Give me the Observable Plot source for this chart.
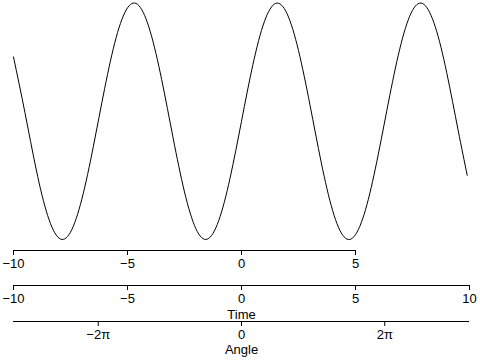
<!DOCTYPE html>
<html>
<head>
<meta charset="utf-8">
<script src="https://cdn.jsdelivr.net/npm/d3@7"></script>
<script src="https://cdn.jsdelivr.net/npm/@observablehq/plot@0.6"></script>
<style>
  html, body { margin: 0; padding: 0; background: #fff; }
</style>
</head>
<body>
<div id="chart"></div>
<script>
// Curve samples
const timeValues = [-10, -9.5, -9, -8.5, -8, -7.5, -7, -6.5, -6, -5.5, -5, -4.5, -4, -3.5, -3, -2.5, -2, -1.5, -1, -0.5,
  0, 0.5, 1, 1.5, 2, 2.5, 3, 3.5, 4, 4.5, 5, 5.5, 6, 6.5, 7, 7.5, 8, 8.5, 9, 9.5, 9.9];
const signalValues = [0.544, 0.075, -0.412, -0.798, -0.989, -0.938, -0.657, -0.215, 0.279, 0.706, 0.959, 0.978, 0.757, 0.351, -0.141, -0.598, -0.909, -0.997, -0.841, -0.479,
  0, 0.479, 0.841, 0.997, 0.909, 0.598, 0.141, -0.351, -0.757, -0.978, -0.959, -0.706, -0.279, 0.215, 0.657, 0.938, 0.989, 0.798, 0.412, -0.075, -0.457];

// Axis definitions
const axis1Ticks = [-10, -5, 0, 5];
const axis1Extent = [-10, 5];
const axis2Ticks = [-10, -5, 0, 5, 10];
const axis2Extent = [-10, 10];
const axis2Label = "Time";
const axis3Ticks = [-2 * Math.PI, 0, 2 * Math.PI];
const axis3TickLabels = ["\u22122\u03c0", "0", "2\u03c0"];
const axis3Extent = [-10, 10];
const axis3Label = "Angle";

const data = timeValues.map((t, i) => ({t, v: signalValues[i]}));

const font = "'Liberation Sans', Arial, Helvetica, sans-serif";
const fs = 13;
const axisY0 = 250, axisY1 = 285, axisY2 = 321;

const plot = Plot.plot({
  width: 480,
  height: 360,
  marginTop: 0,
  marginLeft: 13,
  marginRight: 11,
  marginBottom: 360 - axisY0,
  style: {fontFamily: font, fontSize: fs + "px", background: "#fff", color: "#000"},
  x: {domain: [-10, 10], range: [13, 469]},
  y: {domain: [-1, 1], range: [239, 2.5], axis: null},
  marks: [
    Plot.line(data, {x: "t", y: "v", curve: "natural", stroke: "#000", strokeWidth: 1}),
    // axis 1
    Plot.ruleY([-1], {x1: axis1Extent[0], x2: axis1Extent[1], dy: axisY0 - 239, stroke: "#000"}),
    Plot.axisX(axis1Ticks, {anchor: "bottom", tickSize: 5, tickPadding: 3, label: null, fontSize: fs, stroke: "#000", fill: "#000"}),
    // axis 2
    Plot.ruleY([-1], {x1: axis2Extent[0], x2: axis2Extent[1], dy: axisY1 - 239, stroke: "#000"}),
    Plot.axisX(axis2Ticks, {anchor: "bottom", tickSize: 5, tickPadding: 3, label: null, dy: axisY1 - axisY0, fontSize: fs, stroke: "#000", fill: "#000"}),
    Plot.text([axis2Label], {x: 0, y: -1, text: d => d, dy: axisY1 - 239 + 29, fontSize: fs, fill: "#000"}),
    // axis 3
    Plot.ruleY([-1], {x1: axis3Extent[0], x2: axis3Extent[1], dy: axisY2 - 239, stroke: "#000"}),
    Plot.axisX(axis3Ticks, {anchor: "bottom", tickSize: 5, tickPadding: 3, label: null, dy: axisY2 - axisY0,
      tickFormat: (d, i) => axis3TickLabels[i], fontSize: fs, stroke: "#000", fill: "#000"}),
    Plot.text([axis3Label], {x: 0, y: -1, text: d => d, dy: axisY2 - 239 + 28, fontSize: fs, fill: "#000"})
  ]
});
document.getElementById("chart").appendChild(plot);
</script>
</body>
</html>
